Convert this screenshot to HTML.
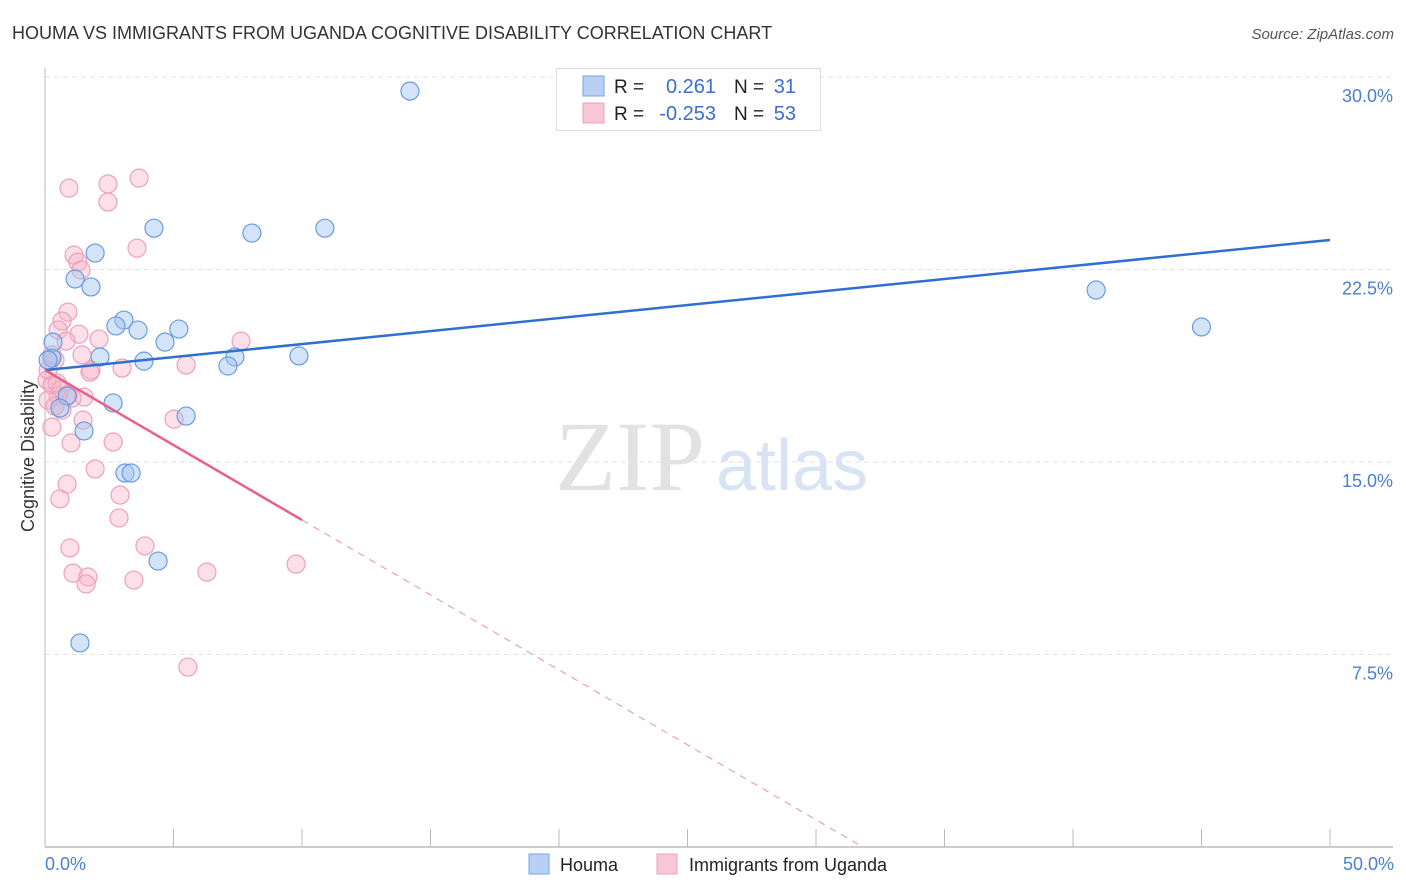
<!DOCTYPE html>
<html><head><meta charset="utf-8"><style>
body{margin:0;background:#fff;font-family:"Liberation Sans",sans-serif;}
#wrap{position:relative;width:1406px;height:892px;overflow:hidden}
svg text{font-family:"Liberation Sans",sans-serif}
</style></head><body>
<div id="wrap">
<svg id="chart" width="1406" height="892">
<text x="12" y="39" font-size="18" fill="#333">HOUMA VS IMMIGRANTS FROM UGANDA COGNITIVE DISABILITY CORRELATION CHART</text>
<text x="1394" y="39" font-size="15" fill="#555" font-style="italic" text-anchor="end">Source: ZipAtlas.com</text>
<text x="34" y="456" font-size="18" fill="#333" text-anchor="middle" transform="rotate(-90 34 456)">Cognitive Disability</text>
<g id="grid"></g>
<text x="555" y="490" font-size="100" fill="#e2e2e2" font-family="Liberation Serif" style="font-family:'Liberation Serif',serif">ZIP</text>
<text x="716" y="490" font-size="72" fill="#d8e4f4">atlas</text>
<g id="marks"></g>
<g id="lines"></g>
<g>
<rect x="556.5" y="68.5" width="264" height="62" fill="#fff" stroke="#ddd"/>
<rect x="583" y="76" width="21" height="20" fill="#b7d0f4" stroke="#7aa3e0"/>
<rect x="583" y="103" width="21" height="20" fill="#f9c6d5" stroke="#eca0b8"/>
<text x="614" y="93" font-size="19" fill="#222">R =</text>
<text x="716" y="93" font-size="20" fill="#3a6fd0" text-anchor="end">0.261</text>
<text x="734" y="93" font-size="19" fill="#222">N =</text>
<text x="796" y="93" font-size="20" fill="#3a6fd0" text-anchor="end">31</text>
<text x="614" y="120" font-size="19" fill="#222">R =</text>
<text x="716" y="120" font-size="20" fill="#3a6fd0" text-anchor="end">-0.253</text>
<text x="734" y="120" font-size="19" fill="#222">N =</text>
<text x="796" y="120" font-size="20" fill="#3a6fd0" text-anchor="end">53</text>
</g>
<text x="45" y="870" font-size="18" fill="#4a7fd4">0.0%</text>
<text x="1394" y="870" font-size="18" fill="#4a7fd4" text-anchor="end">50.0%</text>
<g>
<rect x="529" y="854" width="20" height="20" fill="#b7d0f4" stroke="#7aa3e0"/>
<text x="560" y="871" font-size="18" fill="#222">Houma</text>
<rect x="657" y="854" width="20" height="20" fill="#f9c6d5" stroke="#eca0b8"/>
<text x="689" y="871" font-size="18" fill="#222">Immigrants from Uganda</text>
</g>
</svg>
</div>
<script>
const yTicks=[7.5,15,22.5,30];
const yTickLabels=["7.5%","15.0%","22.5%","30.0%"];
const xTicks=[0,5,10,15,20,25,30,35,40,45,50];
const houmaX=[14.2,4.24,8.05,10.89,1.95,1.17,1.79,3.07,2.76,3.62,5.21,4.67,0.31,2.14,3.85,7.39,7.12,9.88,0.27,2.65,0.86,0.58,5.49,1.52,3.11,3.35,4.40,1.36,40.9,45.0,0.12];
const houmaY=[29.45,24.11,23.92,24.11,23.14,22.13,21.82,20.53,20.30,20.14,20.18,19.67,19.67,19.09,18.93,19.09,18.74,19.13,19.05,17.30,17.57,17.10,16.79,16.21,14.57,14.57,11.14,7.95,21.70,20.26,18.97];
const ugX=[0.93,2.45,3.66,2.45,3.58,1.13,1.28,1.40,0.89,0.66,0.51,1.32,2.10,0.82,7.63,1.44,0.39,3.00,1.79,5.49,0.08,0.27,0.58,1.52,0.51,0.12,1.05,0.27,0.66,1.48,5.02,1.01,2.65,1.95,0.86,0.58,2.92,2.88,0.97,3.89,1.09,1.67,1.60,3.46,6.30,9.77,5.56,0.27,0.12,0.47,0.89,1.75,0.39];
const ugY=[25.67,25.83,26.06,25.13,23.33,23.06,22.79,22.48,20.84,20.49,20.14,19.98,19.79,19.71,19.71,19.17,18.97,18.66,18.58,18.78,18.19,18.00,17.80,17.53,17.57,17.41,17.49,16.36,17.02,16.63,16.67,15.74,15.78,14.73,14.14,13.56,13.71,12.82,11.65,11.73,10.67,10.52,10.25,10.40,10.71,11.02,7.01,19.17,18.58,18.08,17.61,18.5,17.18];
const houmaTrend=[18.58,23.65];
const ugTrend=[18.58,-0.584];
const ugSolidEnd=10;

const X=v=>45+v*25.7;
const Y=v=>847-v*25.667;
const NS="http://www.w3.org/2000/svg";
function mk(tag,attrs,parent){const e=document.createElementNS(NS,tag);for(const k in attrs)e.setAttribute(k,attrs[k]);parent.appendChild(e);return e;}
const grid=document.getElementById('grid');
yTicks.forEach((t,i)=>{
 const l=mk('line',{x1:45,x2:1393,y1:Y(t),y2:Y(t),stroke:'#e2e2e2','stroke-dasharray':'5,4'},grid);
 
 
 const tx=mk('text',{x:1393,y:Y(t)+25,'font-size':18,fill:'#4a7fd4','text-anchor':'end'},grid);
 tx.textContent=yTickLabels[i];
 
 
});
const ax=mk('line',{x1:45,x2:45,y1:68,y2:847,stroke:'#bbb'},grid);


const bx=mk('line',{x1:45,x2:1393,y1:847,y2:847,stroke:'#bbb','stroke-width':1.5},grid);


xTicks.forEach(t=>{
 const l=mk('line',{x1:X(t),x2:X(t),y1:829,y2:847,stroke:'#bbb'},grid);
 
 
});
const marks=document.getElementById('marks');
ugX.forEach((v,i)=>{
 const c=mk('circle',{cx:X(v),cy:Y(ugY[i]),r:9,fill:'rgba(246,178,200,0.4)',stroke:'#eea0ba','stroke-width':1.2},marks);
 
 
});
houmaX.forEach((v,i)=>{
 const c=mk('circle',{cx:X(v),cy:Y(houmaY[i]),r:9,fill:'rgba(160,195,240,0.45)',stroke:'#6a9be0','stroke-width':1.2},marks);
 
 
});
const lines=document.getElementById('lines');
const hl=mk('line',{x1:X(0),y1:Y(houmaTrend[0]),x2:X(50),y2:Y(houmaTrend[1]),stroke:'#2f6fd4','stroke-width':2.5},lines);


const u=x=>ugTrend[0]+ugTrend[1]*x;
const ul=mk('line',{x1:X(0),y1:Y(u(0)),x2:X(ugSolidEnd),y2:Y(u(ugSolidEnd)),stroke:'#e8608c','stroke-width':2.5},lines);


const xEnd=-ugTrend[0]/ugTrend[1];
const ud=mk('line',{x1:X(ugSolidEnd),y1:Y(u(ugSolidEnd)),x2:X(xEnd),y2:Y(0),stroke:'#eea0ba','stroke-width':1.2,'stroke-dasharray':'7,6'},lines);


</script>
</body></html>
